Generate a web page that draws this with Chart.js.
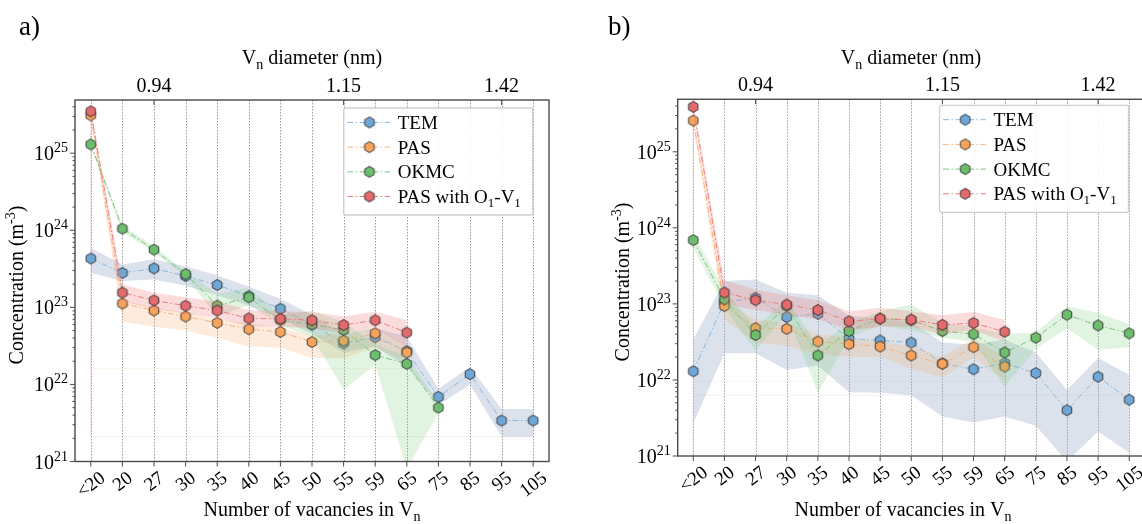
<!DOCTYPE html>
<html><head><meta charset="utf-8">
<script src="https://cdn.jsdelivr.net/npm/chart.js@4.4.0/dist/chart.umd.min.js"></script>
<style>
html,body{margin:0;padding:0;background:#fff;overflow:hidden;width:1142px;height:524px;}
#wrap{position:relative;width:1142px;height:524px;overflow:hidden;background:#fff;}
canvas{position:absolute;top:0;}
#ca{left:0;} #cb{left:571px;}
</style></head><body>
<div id="wrap"><canvas id="ca" width="571" height="524"></canvas><canvas id="cb" width="580" height="524"></canvas></div>
<script>
// ---------------- DATA ----------------
const categories = ['<20','20','27','30','35','40','45','50','55','59','65','75','85','95','105'];
const topTickLabels = ['','','0.94','','','','','','1.15','','','','','1.42',''];
const yDecadeExponents = [21,22,23,24,25];
const seriesNames = ['TEM','PAS','OKMC','PAS with O1-V1'];

// Panel a
const temA     = [4.3e23, 2.8e23, 3.2e23, 2.55e23, 1.95e23, 1.4e23, 9.6e22, 6.0e22, 3.4e22, 4.1e22, 2.7e22, 6.9e21, 1.36e22, 3.4e21, 3.4e21];
const temALow  = [2.8e23, 2.2e23, 2.3e23, 1.9e23, 1.45e23, 1.05e23, 7.2e22, 4.5e22, 2.6e22, 3.1e22, 1.7e22, 5.4e21, 1.0e22, 2.1e21, 2.1e21];
const temAHigh = [5.9e23, 3.6e23, 4.2e23, 3.4e23, 2.6e23, 1.85e23, 1.28e23, 8.0e22, 4.5e22, 5.4e22, 4.2e22, 8.8e21, 1.7e22, 4.8e21, 4.8e21];
const pasA     = [3.1e25, 1.12e23, 9.1e22, 7.6e22, 6.3e22, 5.2e22, 4.8e22, 3.55e22, 3.7e22, 4.6e22, 2.6e22, null, null, null, null];
const pasALow  = [2.8e25, 6.5e22, 5.6e22, 5.0e22, 4.0e22, 3.1e22, 3.0e22, 2.2e22, 2.2e22, 3.0e22, 2.0e22, null, null, null, null];
const pasAHigh = [3.4e25, 1.23e23, 1.0e23, 8.5e22, 7.0e22, 6.2e22, 5.4e22, 4.3e22, 4.5e22, 5.4e22, 3.3e22, null, null, null, null];
const okmcA     = [1.3e25, 1.05e24, 5.6e23, 2.7e23, 1.05e23, 1.35e23, 6.8e22, 6.0e22, 5.1e22, 2.4e22, 1.85e22, 5.0e21, null, null, null];
const okmcALow  = [1.2e25, 9.5e23, 5.2e23, 2.5e23, 7.6e22, 1.07e23, 5.8e22, 4.2e22, 8.5e21, 1.8e22, 8.0e20, 4.3e21, null, null, null];
const okmcAHigh = [1.4e25, 1.15e24, 6.2e23, 2.9e23, 1.5e23, 1.78e23, 8.0e22, 9.0e22, 6.5e22, 3.3e22, 2.3e22, 5.8e21, null, null, null];
const o1v1A     = [3.5e25, 1.55e23, 1.23e23, 1.05e23, 9.1e22, 7.2e22, 7.1e22, 6.8e22, 5.9e22, 6.8e22, 4.7e22, null, null, null, null];
const o1v1ALow  = [3.2e25, 1.2e23, 9.5e22, 8.3e22, 7.2e22, 5.7e22, 5.6e22, 5.4e22, 4.6e22, 5.3e22, 3.1e22, null, null, null, null];
const o1v1AHigh = [3.8e25, 2.0e23, 1.55e23, 1.35e23, 1.18e23, 9.2e22, 9.0e22, 8.7e22, 7.6e22, 8.8e22, 6.8e22, null, null, null, null];

// Panel b
const temB     = [1.3e22, 1.05e23, 1.2e23, 6.7e22, 7.4e22, 3.5e22, 3.3e22, 3.1e22, 1.65e22, 1.38e22, 1.66e22, 1.23e22, 4.0e21, 1.1e22, 5.5e21];
const temBLow  = [2.7e21, 2.25e22, 2.25e22, 1.35e22, 1.55e22, 6.9e21, 6.8e21, 6.3e21, 3.3e21, 2.75e21, 3.3e21, 2.5e21, 8.5e20, 2.1e21, 1.1e21];
const temBHigh = [3.4e22, 2.0e23, 2.1e23, 1.4e23, 1.3e23, 7.0e22, 6.5e22, 5.8e22, 3.1e22, 2.9e22, 3.4e22, 2.3e22, 7.4e21, 1.95e22, 1.17e22];
const pasB     = [2.57e25, 9.4e22, 4.8e22, 4.7e22, 3.2e22, 2.95e22, 2.75e22, 2.1e22, 1.63e22, 2.7e22, 1.5e22, null, null, null, null];
const pasBLow  = [2.2e25, 6.3e22, 3.1e22, 2.8e22, 2.2e22, 2.0e22, 2.0e22, 1.4e22, 1.07e22, 2.0e22, 1.0e22, null, null, null, null];
const pasBHigh = [3.0e25, 1.12e23, 6.2e22, 5.6e22, 4.0e22, 3.6e22, 3.2e22, 2.8e22, 2.0e22, 3.5e22, 2.0e22, null, null, null, null];
const okmcB     = [6.9e23, 1.15e23, 3.9e22, 9.4e22, 2.1e22, 4.4e22, 6.4e22, 6.1e22, 4.4e22, 4.0e22, 2.3e22, 3.6e22, 7.2e22, 5.2e22, 4.1e22];
const okmcBLow  = [5.5e23, 9.0e22, 2.4e22, 7.5e22, 6.8e21, 3.6e22, 5.2e22, 4.5e22, 3.6e22, 3.2e22, 8.1e21, 2.6e22, 4.8e22, 2.5e22, 2.7e22];
const okmcBHigh = [8.5e23, 1.5e23, 5.0e22, 1.15e23, 2.8e22, 5.6e22, 8.0e22, 9.8e22, 5.6e22, 5.0e22, 4.0e22, 4.2e22, 9.3e22, 7.6e22, 5.4e22];
const o1v1B     = [3.9e25, 1.41e23, 1.12e23, 9.8e22, 8.3e22, 5.9e22, 6.4e22, 6.2e22, 5.3e22, 5.6e22, 4.3e22, null, null, null, null];
const o1v1BLow  = [3.3e25, 1.0e23, 8.3e22, 7.2e22, 6.3e22, 4.5e22, 5.0e22, 5.0e22, 4.0e22, 4.5e22, 3.2e22, null, null, null, null];
const o1v1BHigh = [4.5e25, 2.05e23, 1.55e23, 1.3e23, 1.12e23, 8.0e22, 8.9e22, 8.0e22, 7.1e22, 7.8e22, 6.2e22, null, null, null, null];

// faint straight-line artefacts visible in the figure
const artifactsA = [
  {points:[{x:'<20',y:3.5e25},{x:'<20',y:2.1e21}], color:'rgba(240,175,175,0.22)'},
  {points:[{x:'<20',y:1.6e22},{x:'65',y:1.6e22}], color:'rgba(250,200,160,0.3)'},
  {points:[{x:'<20',y:2.1e21},{x:'105',y:2.1e21}], color:'rgba(190,190,190,0.3)'}
];
const artifactsB = [
  {points:[{x:'<20',y:3.9e25},{x:'<20',y:1e20}], color:'rgba(240,175,175,0.22)'},
  {points:[{x:'<20',y:9.6e21},{x:'65',y:9.6e21}], color:'rgba(220,235,220,0.45)'},
  {points:[{x:'<20',y:6.3e21},{x:'105',y:6.3e21}], color:'rgba(190,200,200,0.3)'}
];

// ---------------- STYLE ----------------
const FONT = "'Liberation Serif','DejaVu Serif','Times New Roman',serif";
const f = px => px + 'px ' + FONT;
const markerColors = ['#6ea6d6', '#f7a35c', '#6cbd6c', '#e36a6d'];
const lineColors = ['#86b8e0', '#f8b27a', '#7cc47c', '#e98080'];
const bandColors = ['rgba(160,180,205,0.38)', 'rgba(248,170,100,0.22)', 'rgba(120,200,120,0.22)', 'rgba(235,120,120,0.26)'];
const DASH = [6, 2.5, 1.5, 2.5];

function hexImage(fill) {
  const s = 14, c = document.createElement('canvas');
  c.width = s; c.height = s;
  const g = c.getContext('2d'), r = 5.5;
  g.beginPath();
  for (let k = 0; k < 6; k++) {
    const a = -Math.PI / 2 + k * Math.PI / 3;
    const px = s / 2 + r * Math.cos(a), py = s / 2 + r * Math.sin(a);
    if (k) g.lineTo(px, py); else g.moveTo(px, py);
  }
  g.closePath(); g.fillStyle = fill; g.fill();
  g.lineWidth = 0.9; g.strokeStyle = '#2a2a2a'; g.stroke();
  return c;
}
const hexImgs = markerColors.map(hexImage);

function drawRich(ctx, parts, x, y, align) {
  let total = 0;
  parts.forEach(p => { ctx.font = f(p.size); p.w = ctx.measureText(p.t).width; total += p.w; });
  let cx = align === 'center' ? x - total / 2 : (align === 'right' ? x - total : x);
  ctx.textAlign = 'left'; ctx.textBaseline = 'alphabetic';
  parts.forEach(p => { ctx.font = f(p.size); ctx.fillText(p.t, cx, y + (p.dy || 0)); cx += p.w; });
}

const decorPlugin = {
  id: 'decor',
  beforeDatasetsDraw(chart) {
    const ctx = chart.ctx, ca = chart.chartArea, xs = chart.scales.x;
    ctx.save();
    ctx.strokeStyle = '#9a9a9a'; ctx.lineWidth = 1; ctx.setLineDash([1.5, 1.5]);
    categories.forEach((c, i) => {
      const x = Math.round(xs.getPixelForTick(i)) + 0.5;
      ctx.beginPath(); ctx.moveTo(x, ca.top); ctx.lineTo(x, ca.bottom); ctx.stroke();
    });
    ctx.restore();
  },
  afterDatasetsDraw(chart, args, opts) {
    const ctx = chart.ctx, ca = chart.chartArea, xs = chart.scales.x, ys = chart.scales.y;
    ctx.save();
    ctx.fillStyle = '#000';
    // frame
    ctx.strokeStyle = '#4a4a4a'; ctx.lineWidth = 1.4; ctx.setLineDash([]);
    ctx.strokeRect(ca.left, ca.top, ca.right - ca.left, ca.bottom - ca.top);
    // bottom ticks + labels
    ctx.lineWidth = 1;
    const rot = 37 * Math.PI / 180;
    categories.forEach((c, i) => {
      const x = xs.getPixelForTick(i);
      ctx.beginPath(); ctx.moveTo(x, ca.bottom); ctx.lineTo(x, ca.bottom + 5); ctx.stroke();
      ctx.font = f(19);
      const w = ctx.measureText(c).width, h = 0.8 * 19;
      const bh = w * Math.sin(rot) + h * Math.cos(rot);
      ctx.save();
      ctx.translate(x, ca.bottom + 8 + bh / 2);
      ctx.rotate(-rot);
      ctx.textAlign = 'center'; ctx.textBaseline = 'middle';
      ctx.fillText(c, 0, 1);
      ctx.restore();
      // top ticks + labels
      if (topTickLabels[i]) {
        ctx.beginPath(); ctx.moveTo(x, ca.top); ctx.lineTo(x, ca.top + 5); ctx.stroke();
        ctx.font = f(20); ctx.textAlign = 'center'; ctx.textBaseline = 'alphabetic';
        ctx.fillText(topTickLabels[i], x, ca.top - 8);
      }
    });
    // y ticks
    yDecadeExponents.forEach(e => {
      for (let m = 1; m <= 9; m++) {
        const v = m * Math.pow(10, e);
        if (v < ys.min || v > ys.max) continue;
        const y = ys.getPixelForValue(v);
        ctx.beginPath(); ctx.moveTo(ca.left, y); ctx.lineTo(ca.left - (m === 1 ? 5 : 2.5), y); ctx.stroke();
      }
      const y = ys.getPixelForValue(Math.pow(10, e));
      drawRich(ctx, [{t:'10', size:20}, {t:String(e), size:14, dy:-8}], ca.left - 7, y + 7, 'right');
    });
    // titles
    drawRich(ctx, [{t:'V', size:20}, {t:'n', size:14, dy:5}, {t:' diameter (nm)', size:20}], opts.topTitleX, 64, 'center');
    drawRich(ctx, [{t:'Number of vacancies in V', size:20}, {t:'n', size:14, dy:5}], opts.bottomTitleX, 516, 'center');
    ctx.save();
    ctx.translate(opts.yTitleX, opts.yTitleY); ctx.rotate(-Math.PI / 2);
    drawRich(ctx, [{t:'Concentration (m', size:20}, {t:'-3', size:14, dy:-8}, {t:')', size:20}], 0, 7, 'center');
    ctx.restore();
    // panel letter
    ctx.font = f(27); ctx.textAlign = 'left'; ctx.textBaseline = 'alphabetic';
    ctx.fillText(opts.letter, opts.letterX, 35);
    // legend
    const lw = 189, lh = 107;
    const lx = ca.right - 16.3 - lw, ly = ca.top + opts.legendTop;
    ctx.beginPath();
    if (ctx.roundRect) ctx.roundRect(lx, ly, lw, lh, 2); else ctx.rect(lx, ly, lw, lh);
    ctx.fillStyle = 'rgba(255,255,255,0.9)'; ctx.fill();
    ctx.strokeStyle = '#cfcfcf'; ctx.lineWidth = 1.3; ctx.stroke();
    seriesNames.forEach((name, i) => {
      const cy = ly + 14.4 + i * 24.7;
      ctx.strokeStyle = lineColors[i]; ctx.lineWidth = 1; ctx.setLineDash(DASH);
      ctx.beginPath(); ctx.moveTo(lx + 3.5, cy); ctx.lineTo(lx + 46.5, cy); ctx.stroke();
      ctx.setLineDash([]);
      ctx.drawImage(hexImgs[i], lx + 25.7 - 7, cy - 7);
      ctx.fillStyle = '#000';
      if (i === 3) {
        drawRich(ctx, [{t:'PAS with O', size:19}, {t:'1', size:13, dy:4}, {t:'-V', size:19}, {t:'1', size:13, dy:4}], lx + 54, cy + 6.5, 'left');
      } else {
        drawRich(ctx, [{t:name, size:19}], lx + 54, cy + 6.5, 'left');
      }
    });
    ctx.restore();
  }
};

function buildPanel(canvasId, cfg) {
  const ds = [];
  let seq = 0;
  const push = d => { d.order = 1000 - (seq++); ds.push(d); };
  cfg.artifacts.forEach(a => push({data: a.points, borderColor: a.color, backgroundColor: a.color, borderWidth: 0.8, pointRadius: 0, fill: false}));
  cfg.series.forEach((s, i) => {
    push({data: s.low, borderWidth: 0, borderColor: 'rgba(0,0,0,0)', pointRadius: 0, fill: false});
    push({data: s.high, borderWidth: 0, borderColor: 'rgba(0,0,0,0)', pointRadius: 0, fill: '-1', backgroundColor: bandColors[i]});
    push({label: seriesNames[i], data: s.values, borderColor: lineColors[i], borderWidth: 1, borderDash: DASH,
          pointStyle: hexImgs[i], pointRadius: 5, pointHoverRadius: 5, fill: false});
  });
  return new Chart(document.getElementById(canvasId), {
    type: 'line',
    data: {labels: categories, datasets: ds},
    options: {
      responsive: false, animation: false, devicePixelRatio: 1,
      layout: {padding: cfg.padding},
      elements: {line: {tension: 0}},
      events: [],
      plugins: {legend: {display: false}, tooltip: {enabled: false}, decor: cfg.decor},
      scales: {
        x: {type: 'category', offset: true, grid: {display: false, drawTicks: false}, border: {display: false}, ticks: {display: false}},
        y: {type: 'logarithmic', min: 1e21, max: 4.9e25, grid: {display: false, drawTicks: false}, border: {display: false}, ticks: {display: false}}
      }
    },
    plugins: [decorPlugin]
  });
}

buildPanel('ca', {
  padding: {left: 75, right: 22, top: 100, bottom: 62.5},
  artifacts: artifactsA,
  series: [
    {values: temA, low: temALow, high: temAHigh},
    {values: pasA, low: pasALow, high: pasAHigh},
    {values: okmcA, low: okmcALow, high: okmcAHigh},
    {values: o1v1A, low: o1v1ALow, high: o1v1AHigh}
  ],
  decor: {letter: 'a)', letterX: 19, topTitleX: 312, bottomTitleX: 312, yTitleX: 16, yTitleY: 285, legendTop: 8}
});
buildPanel('cb', {
  padding: {left: 106.7, right: 6.2, top: 99.3, bottom: 68},
  artifacts: artifactsB,
  series: [
    {values: temB, low: temBLow, high: temBHigh},
    {values: pasB, low: pasBLow, high: pasBHigh},
    {values: okmcB, low: okmcBLow, high: okmcBHigh},
    {values: o1v1B, low: o1v1BLow, high: o1v1BHigh}
  ],
  decor: {letter: 'b)', letterX: 37, topTitleX: 340, bottomTitleX: 332, yTitleX: 51, yTitleY: 282, legendTop: 6}
});
</script>
</body></html>
